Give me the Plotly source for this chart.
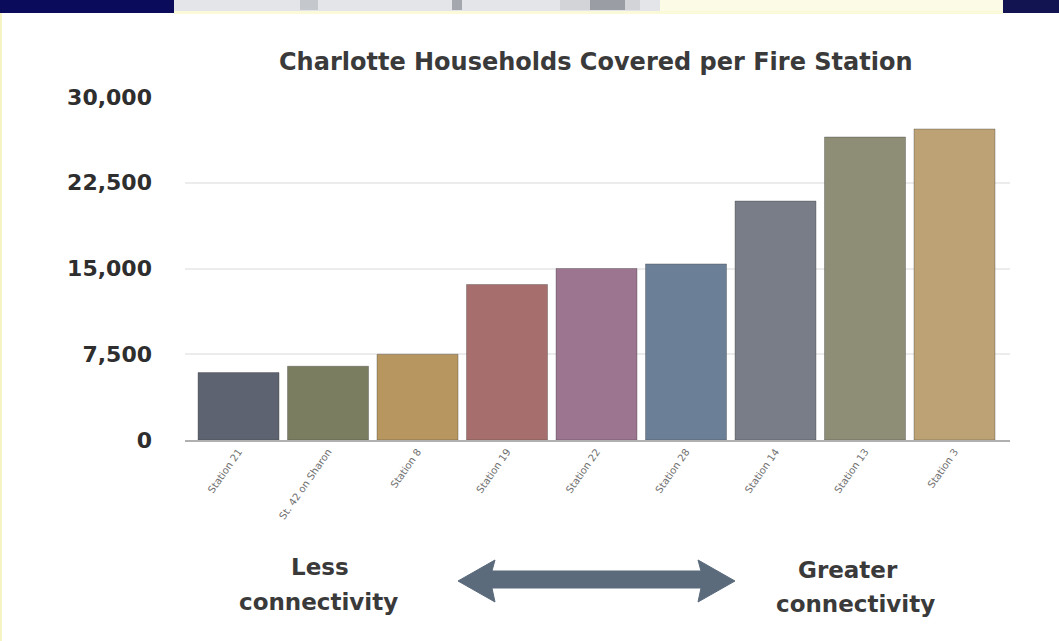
import plotly.graph_objects as go

# Households covered per station, ordered from least to greatest connectivity
stations = [
    "Station 21", "St. 42 on Sharon", "Station 8", "Station 19", "Station 22",
    "Station 28", "Station 14", "Station 13", "Station 3",
]
households = [5900, 6450, 7500, 13600, 15000, 15400, 20900, 26500, 27200]
bar_colors = [
    "#5d6370", "#7b7d60", "#b7975f", "#a66e6c", "#9c7590",
    "#6b7f97", "#787d87", "#8e8e77", "#bca274",
]
y_ticks = [0, 7500, 15000, 22500, 30000]

W, H = 1059, 641
L, R, T, B = 185, 49, 97, 201
PW, PH = W - L - R, H - T - B
WIDE = "'DejaVu Sans', Verdana, sans-serif"


def px(x):
    return (x - L) / PW


def py(y):
    return (H - B - y) / PH


fig = go.Figure(
    go.Bar(
        x=list(range(len(stations))),
        y=households,
        marker=dict(color=bar_colors, line=dict(color="rgba(60,60,60,0.35)", width=1)),
        hoverinfo="x+y",
    )
)

shapes = []
# header strip
shapes.append(dict(type="rect", xref="paper", yref="paper", x0=px(0), x1=px(174), y0=py(0), y1=py(13),
                   fillcolor="#0b0b5c", line_width=0, layer="above"))
shapes.append(dict(type="rect", xref="paper", yref="paper", x0=px(1003), x1=px(W), y0=py(0), y1=py(13),
                   fillcolor="#121452", line_width=0, layer="above"))
shapes.append(dict(type="rect", xref="paper", yref="paper", x0=px(174), x1=px(660), y0=py(0), y1=py(12),
                   fillcolor="#e3e5e9", line_width=0, layer="above"))
shapes.append(dict(type="rect", xref="paper", yref="paper", x0=px(660), x1=px(1003), y0=py(0), y1=py(12),
                   fillcolor="#fbfbe6", line_width=0, layer="above"))
shapes.append(dict(type="rect", xref="paper", yref="paper", x0=px(174), x1=px(1003), y0=py(11), y1=py(14),
                   fillcolor="#fafad8", line_width=0, layer="above"))
for a, b, c in [(300, 318, "#c4c7cc"), (452, 462, "#a4a7ad"), (560, 640, "#d2d4d8"), (590, 625, "#9a9da3")]:
    shapes.append(dict(type="rect", xref="paper", yref="paper", x0=px(a), x1=px(b), y0=py(0), y1=py(10),
                       fillcolor=c, line_width=0, layer="above"))
# thin left edge
shapes.append(dict(type="rect", xref="paper", yref="paper", x0=px(0), x1=px(2), y0=py(13), y1=py(H),
                   fillcolor="#f6f3c4", line_width=0, layer="above"))

# double-headed connectivity arrow
pts = [(458, 581), (495, 560), (492, 571), (701, 571), (698, 560), (735, 581),
       (698, 602), (701, 588), (492, 588), (495, 602)]
path = "M " + " L ".join(f"{px(x):.5f},{py(y):.5f}" for x, y in pts) + " Z"
shapes.append(dict(type="path", xref="paper", yref="paper", path=path,
                   fillcolor="#5b6b7c", line=dict(color="#5b6b7c", width=1), layer="above"))

label_font = dict(family=WIDE, size=23, color="#3a3a3a", weight="bold")
annotations = [
    dict(text="Charlotte Households Covered per Fire Station", x=px(596), y=py(62),
         font=dict(family=WIDE, size=24, color="#3a3a3a", weight="bold")),
    dict(text="Less", x=px(320), y=py(567), font=label_font),
    dict(text="connectivity", x=px(318), y=py(602), font=label_font),
    dict(text="Greater", x=px(848), y=py(570), font=label_font),
    dict(text="connectivity", x=px(855), y=py(604), font=label_font),
]
for a in annotations:
    a.update(xref="paper", yref="paper", showarrow=False, xanchor="center", yanchor="middle")

fig.update_layout(
    width=W, height=H,
    margin=dict(l=L, r=R, t=T, b=B, pad=0),
    paper_bgcolor="white", plot_bgcolor="white",
    font=dict(family=WIDE, color="#333333"),
    bargap=0.095,
    showlegend=False,
    shapes=shapes,
    annotations=annotations,
    xaxis=dict(
        range=[-0.598, 8.62],
        tickmode="array", tickvals=list(range(len(stations))), ticktext=stations,
        tickangle=-55, tickfont=dict(size=10, color="#6e6e6e"),
        showgrid=False, zeroline=False,
        showline=True, linecolor="#b0b0b0", linewidth=2,
        ticks="", fixedrange=True,
    ),
    yaxis=dict(
        range=[0, 30000],
        tickmode="array", tickvals=y_ticks, tickformat=",",
        tickfont=dict(family=WIDE, size=22, color="#2e2e2e", weight="bold"),
        ticklabelstandoff=32,
        showgrid=True, gridcolor="#ececec", gridwidth=2,
        zeroline=False, showline=False, ticks="", fixedrange=True,
    ),
)

fig.write_html("out.html")
